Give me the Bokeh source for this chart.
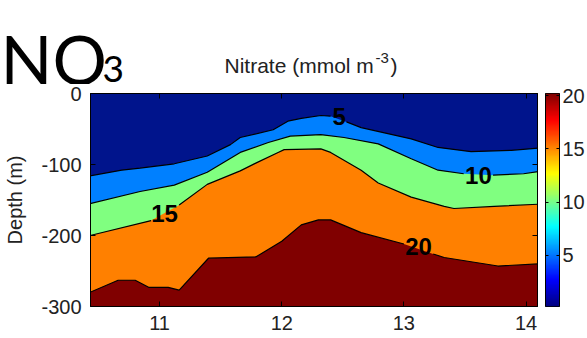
import numpy as np
from bokeh.plotting import figure
from bokeh.layouts import column, row
from bokeh.models import Range1d, LinearAxis, FixedTicker, LinearColorMapper
from bokeh.core.properties import value
from bokeh.embed import file_html
from bokeh.resources import INLINE

# ---- data: depth (m) of each nitrate isoline vs x ----
x_iso5 = [10.43, 10.69, 10.84, 11.12, 11.39, 11.58, 11.66, 11.93, 12.05, 12.16,
          12.32, 12.40, 12.53, 12.65, 13.06, 13.28, 13.55, 13.88, 14.10]
depth_iso5 = [-116, -108, -105, -99, -88, -72, -62, -51, -39, -35,
              -31, -32, -40, -48, -64, -76, -82, -80, -77]

x_iso10 = [10.43, 10.84, 11.12, 11.39, 11.66, 11.89, 12.07, 12.32, 12.51, 12.79,
           13.06, 13.28, 13.49, 13.73, 13.98, 14.10]
depth_iso10 = [-155, -138, -129, -111, -83, -69, -60, -58, -62, -71,
               -92, -108, -113, -115, -113, -110]

x_iso15 = [10.43, 10.93, 11.16, 11.39, 11.66, 11.80, 11.97, 12.02, 12.32, 12.40,
           12.65, 12.79, 13.06, 13.33, 13.41, 13.74, 14.10]
depth_iso15 = [-200, -179, -157, -128, -109, -97, -83, -79, -78, -83,
               -108, -126, -146, -159, -162, -159, -156]

x_iso20 = [10.43, 10.66, 10.80, 10.91, 11.07, 11.16, 11.40, 11.79, 12.00, 12.16,
           12.30, 12.40, 12.65, 13.00, 13.24, 13.33, 13.77, 14.10]
depth_iso20 = [-280, -263, -263, -273, -273, -277, -232, -230, -208, -185,
               -178, -178, -196, -212, -226, -231, -243, -240]

levels = [5, 10, 15, 20]
band_colors = ["#00148C", "#0080FF", "#80FF80", "#FF8000", "#800000"]

label_text = ["5", "10", "15", "20"]
label_x = [12.47, 13.61, 11.04, 13.12]
label_depth = [-33, -115, -169, -215]

x_ticks = [11, 12, 13, 14]
y_ticks = [0, -100, -200, -300]
cbar_ticks = [5, 10, 15, 20]
cbar_low, cbar_high = 0.2, 20.2

title_main = "Nitrate (mmol m"
title_sup = "-3"
title_end = ")"
species = "NO"
species_sub = "3"

FONT = "Liberation Sans"
TXT = "#222222"


def jet(n):
    t = np.linspace(0, 1, n)
    r = np.clip(1.5 - np.abs(4 * t - 3), 0, 1)
    g = np.clip(1.5 - np.abs(4 * t - 2), 0, 1)
    b = np.clip(1.5 - np.abs(4 * t - 1), 0, 1)
    return ["#%02x%02x%02x" % (int(round(a * 255)), int(round(c * 255)), int(round(d * 255)))
            for a, c, d in zip(r, g, b)]


def style_axis(ax, labels=True, size="20px"):
    ax.major_tick_in = 5
    ax.major_tick_out = 0
    ax.minor_tick_line_color = None
    ax.axis_line_color = "black"
    ax.major_tick_line_color = "black"
    ax.major_label_text_font = FONT
    ax.major_label_text_font_size = size if labels else "1px"
    ax.major_label_text_color = TXT
    if not labels:
        ax.major_label_standoff = 0


# ---------------- header (title + NO3) ----------------
HW, HH = 587, 84
head = figure(width=HW, height=HH, x_range=Range1d(0, HW), y_range=Range1d(HH, 0),
              x_axis_type=None, y_axis_type=None, output_backend="svg",
              toolbar_location=None, min_border=0)
head.outline_line_color = None
head.background_fill_color = "white"
head.border_fill_color = "white"
head.text(x=[224, 390], y=[65, 65], text=[title_main, title_end], text_font=value(FONT),
          text_font_size="21px", text_color=TXT, text_baseline="alphabetic", text_align="left")
head.text(x=[375], y=[57.5], text=[title_sup], text_font=value(FONT),
          text_font_size="15px", text_color=TXT, text_baseline="alphabetic", text_align="left")
head.text(x=[0], y=[58], text=[species], text_font=value("Lato"),
          text_font_size="68px", text_color="black", text_baseline="alphabetic", text_align="left")
head.text(x=[102], y=[68], text=[species_sub], text_font=value("Lato"),
          text_font_size="37px", text_color="black", text_baseline="alphabetic", text_align="left")

# ---------------- main contour plot ----------------
p = figure(width=541, height=254,
           x_range=Range1d(10.434, 14.094), y_range=Range1d(-300, 0),
           output_backend="svg", toolbar_location=None,
           min_border_left=90, min_border_top=6, min_border_right=4, min_border_bottom=32)
p.xgrid.visible = False
p.ygrid.visible = False
p.background_fill_color = band_colors[0]
p.border_fill_color = "white"
p.outline_line_color = "black"

iso_x = [x_iso5, x_iso10, x_iso15, x_iso20]
iso_d = [depth_iso5, depth_iso10, depth_iso15, depth_iso20]

p.varea(x=x_iso5, y1=0, y2=-300, fill_color=band_colors[0])
for xs, ds, c in zip(iso_x, iso_d, band_colors[1:]):
    p.varea(x=xs, y1=ds, y2=-300, fill_color=c)

for xs, ds, lx in zip(iso_x, iso_d, label_x):
    xs = np.asarray(xs, float)
    ds = np.asarray(ds, float)
    mid = (xs[:-1] + xs[1:]) / 2
    g = int(np.argmin(np.abs(mid - lx)))
    p.multi_line(xs=[xs[:g + 1], xs[g + 1:]], ys=[ds[:g + 1], ds[g + 1:]],
                 line_color="black", line_width=1.2)

p.text(x=label_x, y=label_depth, text=label_text, text_font=value(FONT),
       text_font_style="bold", text_font_size="24px", text_color="black",
       text_align="center", text_baseline="middle")

xa = p.xaxis[0]
ya = p.yaxis[0]
xa.ticker = FixedTicker(ticks=x_ticks)
ya.ticker = FixedTicker(ticks=y_ticks)
ya.major_label_overrides = {t: str(t) for t in y_ticks}
ya.axis_label = "Depth (m)"
for ax in (xa, ya):
    style_axis(ax)
    ax.axis_label_text_font = FONT
    ax.axis_label_text_font_size = "20px"
    ax.axis_label_text_font_style = "normal"
    ax.axis_label_text_color = TXT
xa.major_label_standoff = 9
ya.major_label_standoff = 9
ya.axis_label_standoff = 12

top = LinearAxis(ticker=FixedTicker(ticks=x_ticks),
                 major_label_overrides={t: "" for t in x_ticks})
right = LinearAxis(ticker=FixedTicker(ticks=y_ticks),
                   major_label_overrides={t: "" for t in y_ticks})
style_axis(top, labels=False)
style_axis(right, labels=False)
p.add_layout(top, "above")
p.add_layout(right, "right")

# ---------------- colour bar ----------------
mapper = LinearColorMapper(palette=jet(256), low=cbar_low, high=cbar_high)
cb = figure(width=46, height=254, x_range=Range1d(0, 1),
            y_range=Range1d(cbar_low, cbar_high), output_backend="svg",
            toolbar_location=None, x_axis_type=None, y_axis_location="right",
            min_border_left=4, min_border_right=27, min_border_top=9, min_border_bottom=28)
cb.grid.visible = False
cb.outline_line_color = "black"
cb.border_fill_color = "white"
cb.image(image=[np.linspace(cbar_low, cbar_high, 256).reshape(-1, 1)],
         x=0, y=cbar_low, dw=1, dh=cbar_high - cbar_low, color_mapper=mapper)
cya = cb.yaxis[0]
cya.ticker = FixedTicker(ticks=cbar_ticks)
style_axis(cya, size="20px")
cya.major_tick_in = 3
cya.major_label_standoff = 3
cleft = LinearAxis(ticker=FixedTicker(ticks=cbar_ticks),
                   major_label_overrides={t: "" for t in cbar_ticks})
style_axis(cleft, labels=False)
cleft.major_tick_in = 3
cb.add_layout(cleft, "left")

layout = column(head, row(p, cb, spacing=0), spacing=0)
open("out.html", "w").write(file_html(layout, INLINE))
